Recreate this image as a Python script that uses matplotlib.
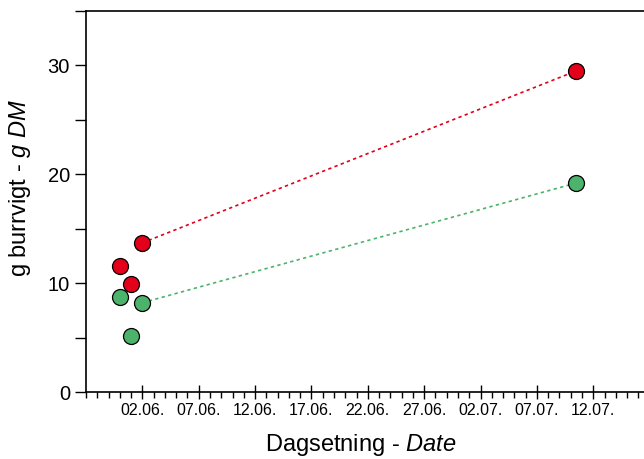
import matplotlib
matplotlib.use("Agg")
import matplotlib.pyplot as plt
import matplotlib.dates as mdates
from matplotlib.ticker import MultipleLocator
import datetime as dt

plt.rcParams['font.family'] = ['Liberation Sans', 'DejaVu Sans']
plt.rcParams['mathtext.fontset'] = 'custom'
plt.rcParams['mathtext.rm'] = 'Liberation Sans'
plt.rcParams['mathtext.it'] = 'Liberation Sans:italic'

# Data
red_dates = ["2021-05-31 00:00", "2021-06-01 00:00", "2021-06-02 00:00", "2021-07-10 12:00"]
red_values = [11.6, 9.9, 13.7, 29.5]
green_dates = ["2021-05-31 00:00", "2021-06-01 00:00", "2021-06-02 00:00", "2021-07-10 12:00"]
green_values = [8.7, 5.1, 8.2, 19.2]
tick_dates = ["2021-06-02 00:00", "2021-06-07 00:00", "2021-06-12 00:00", "2021-06-17 00:00",
              "2021-06-22 00:00", "2021-06-27 00:00", "2021-07-02 00:00", "2021-07-07 00:00",
              "2021-07-12 00:00"]
tick_labels = ["02.06.", "07.06.", "12.06.", "17.06.", "22.06.",
               "27.06.", "02.07.", "07.07.", "12.07."]

def todate(s):
    return dt.datetime.strptime(s, "%Y-%m-%d %H:%M")

rd = [todate(s) for s in red_dates]
gd = [todate(s) for s in green_dates]

fig = plt.figure(figsize=(6.44, 4.59), dpi=100)
ax = fig.add_axes([86/644, 67/459, 1 - 86/644, (392-11)/459])

red_c = '#E3001B'
green_c = '#4CB36C'

# dotted connecting lines
ax.plot(rd[2:], red_values[2:], linestyle=(0, (2, 2)), color=red_c, lw=1.2, zorder=2)
ax.plot(gd[2:], green_values[2:], linestyle=(0, (2, 2)), color=green_c, lw=1.2, zorder=2)

ax.plot(rd, red_values, 'o', ms=11.5, mfc=red_c, mec='black', mew=0.9, linestyle='none', zorder=3)
ax.plot(gd, green_values, 'o', ms=11.5, mfc=green_c, mec='black', mew=0.9, linestyle='none', zorder=3)

ax.set_ylim(0, 35)
ax.set_xlim(todate("2021-05-28 00:00"), todate("2021-07-16 12:00"))

ax.set_yticks([0, 10, 20, 30])
ax.yaxis.set_minor_locator(MultipleLocator(5))
ax.tick_params(axis='y', which='both', direction='out', length=8, width=1, labelsize=14.5)

ax.set_xticks([mdates.date2num(todate(s)) for s in tick_dates])
ax.set_xticklabels(tick_labels)
ax.xaxis.set_minor_locator(mdates.DayLocator())
ax.tick_params(axis='x', which='major', direction='inout', length=10, width=1, labelsize=11.5, pad=3)
ax.tick_params(axis='x', which='minor', direction='out', length=4, width=1)

ax.spines['right'].set_visible(False)
for s in ['left', 'bottom', 'top']:
    ax.spines[s].set_linewidth(1.2)

ax.set_xlabel("Dagsetning - $\\it{Date}$", fontsize=17)
ax.set_ylabel("g burrvigt - $\\it{g\\ DM}$", fontsize=17)
ax.xaxis.set_label_coords(0.493, -0.155)
ax.yaxis.set_label_coords(-0.118, 0.535)
ax.xaxis.label.set_va('baseline')
ax.yaxis.label.set_va('center')

fig.savefig("out.png", dpi=100)
